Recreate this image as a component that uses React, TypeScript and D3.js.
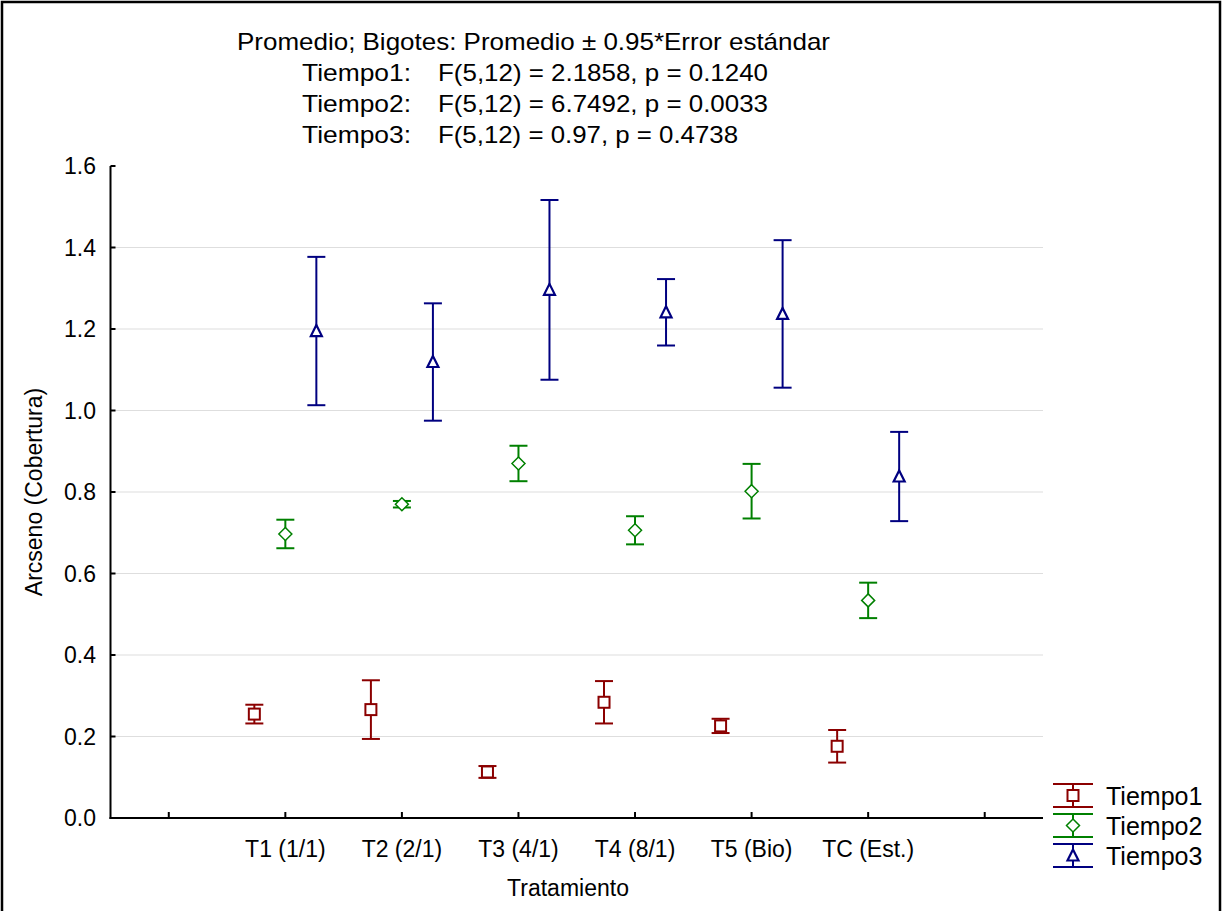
import React from "react";
import * as d3 from "d3";

// Treatments on the x axis (positions 1..6; 0 and 7 are empty slots)
const categories = ["T1 (1/1)", "T2 (2/1)", "T3 (4/1)", "T4 (8/1)", "T5 (Bio)", "TC (Est.)"];

// Means and whisker half-widths (0.95 * standard error)
const tiempo1Mean = [0.255, 0.266, 0.113, 0.284, 0.226, 0.176];
const tiempo1Err = [0.023, 0.072, 0.0145, 0.052, 0.0175, 0.04];
const tiempo2Mean = [0.697, 0.77, 0.87, 0.706, 0.802, 0.534];
const tiempo2Err = [0.035, 0.008, 0.0435, 0.0345, 0.067, 0.0435];
const tiempo3Mean = [1.195, 1.119, 1.296, 1.241, 1.237, 0.838];
const tiempo3Err = [0.182, 0.144, 0.2205, 0.0815, 0.181, 0.1095];

const yTicks = [0, 0.2, 0.4, 0.6, 0.8, 1.0, 1.2, 1.4, 1.6];
const xTickSlots = [0, 1, 2, 3, 4, 5, 6, 7];

const seriesNames = ["Tiempo1", "Tiempo2", "Tiempo3"];
const seriesColors = ["#8b0000", "#008000", "#000080"];
const seriesShapes = ["square", "diamond", "triangle"];

const headerLine = "Promedio; Bigotes: Promedio \u00b1 0.95*Error est\u00e1ndar";
const statLabels = ["Tiempo1:", "Tiempo2:", "Tiempo3:"];
const statValues = [
  "F(5,12) = 2.1858, p = 0.1240",
  "F(5,12) = 6.7492, p = 0.0033",
  "F(5,12) = 0.97, p = 0.4738",
];

const W = 1223;
const H = 911;
const plot = { left: 110.5, right: 1043, top: 166, bottom: 818 };
const FONT = "'Liberation Sans', Arial, Helvetica, sans-serif";
const NARROW = "'Liberation Sans Narrow', 'Arial Narrow', 'Liberation Sans', Arial, sans-serif";

const x = d3.scaleLinear().domain([-0.5, 7.5]).range([plot.left, plot.right]);
const y = d3.scaleLinear().domain([0, 1.6]).range([plot.bottom, plot.top]);

const groupOffset = 0.266; // slot units between the three series in a group

function Marker({ shape, cx, cy, color }: { shape: string; cx: number; cy: number; color: string }) {
  if (shape === "square") {
    return <rect x={cx - 5.5} y={cy - 5.5} width={11} height={11} fill="#fff" stroke={color} strokeWidth={2} />;
  }
  if (shape === "diamond") {
    const p = d3.path();
    p.moveTo(cx, cy - 6.5);
    p.lineTo(cx + 6.5, cy);
    p.lineTo(cx, cy + 6.5);
    p.lineTo(cx - 6.5, cy);
    p.closePath();
    return <path d={p.toString()} fill="#fff" stroke={color} strokeWidth={1.5} />;
  }
  const p = d3.path();
  p.moveTo(cx, cy - 6);
  p.lineTo(cx + 5.5, cy + 5);
  p.lineTo(cx - 5.5, cy + 5);
  p.closePath();
  return <path d={p.toString()} fill="#fff" stroke={color} strokeWidth={2.2} strokeLinejoin="miter" />;
}

function Whisker({ cx, top, bottom, color, cap }: { cx: number; top: number; bottom: number; color: string; cap: number }) {
  return (
    <g stroke={color} strokeWidth={2}>
      <line x1={cx} x2={cx} y1={top} y2={bottom} />
      <line x1={cx - cap} x2={cx + cap} y1={top} y2={top} />
      <line x1={cx - cap} x2={cx + cap} y1={bottom} y2={bottom} />
    </g>
  );
}

export default function App() {
  const means = [tiempo1Mean, tiempo2Mean, tiempo3Mean];
  const errs = [tiempo1Err, tiempo2Err, tiempo3Err];

  return (
    <svg
      width={W}
      height={H}
      viewBox={`0 0 ${W} ${H}`}
      style={{ position: "absolute", left: 0, top: 0, background: "#fff" }}
    >
      <rect x={0} y={0} width={W} height={H} fill="#fff" />
      <rect x={2} y={2} width={1218} height={930} fill="none" stroke="#000" strokeWidth={2.5} />

      {/* header and ANOVA results */}
      <g fontFamily={NARROW} fontSize={24} fill="#000">
        <text x={237} y={50} textLength={593} lengthAdjust="spacingAndGlyphs">
          {headerLine}
        </text>
        {statLabels.map((lab, i) => (
          <g key={lab}>
            <text x={302} y={81 + i * 31} textLength={109} lengthAdjust="spacingAndGlyphs">
              {lab}
            </text>
            <text x={438} y={81 + i * 31} textLength={i === 2 ? 300 : 330} lengthAdjust="spacingAndGlyphs">
              {statValues[i]}
            </text>
          </g>
        ))}
      </g>

      {/* horizontal grid */}
      <g stroke="#bdbdbd" strokeWidth={1.2} strokeDasharray="1 1">
        {yTicks
          .filter((t) => t > 0 && t < 1.6)
          .map((t) => (
            <line key={t} x1={plot.left} x2={plot.right} y1={y(t)} y2={y(t)} />
          ))}
      </g>

      {/* axes */}
      <g stroke="#000" strokeWidth={2}>
        <line x1={plot.left} x2={plot.left} y1={plot.top} y2={plot.bottom + 1} />
        <line x1={plot.left - 1} x2={plot.right} y1={plot.bottom} y2={plot.bottom} />
        {yTicks.map((t) => (
          <line key={t} x1={plot.left} x2={plot.left + 5} y1={y(t)} y2={y(t)} />
        ))}
        {xTickSlots.map((s) => (
          <line key={s} x1={x(s)} x2={x(s)} y1={plot.bottom} y2={plot.bottom - 6} />
        ))}
      </g>

      <g fontFamily={FONT} fontSize={23} fill="#000">
        {yTicks.map((t) => (
          <text key={t} x={96} y={y(t)} dy="0.36em" textAnchor="end">
            {d3.format(".1f")(t)}
          </text>
        ))}
        {categories.map((c, i) => (
          <text key={c} x={x(i + 1)} y={857} textAnchor="middle">
            {c}
          </text>
        ))}
        <text x={568} y={896} textAnchor="middle">
          Tratamiento
        </text>
        <text transform={`translate(42,${(plot.top + plot.bottom) / 2}) rotate(-90)`} textAnchor="middle">
          Arcseno (Cobertura)
        </text>
      </g>

      {/* whiskers and means */}
      {means.map((m, si) => (
        <g key={seriesNames[si]}>
          {m.map((v, ci) => {
            const cx = x(ci + 1 + (si - 1) * groupOffset);
            const e = errs[si][ci];
            return (
              <g key={ci}>
                <Whisker cx={cx} top={y(v + e)} bottom={y(v - e)} color={seriesColors[si]} cap={9} />
                <Marker shape={seriesShapes[si]} cx={cx} cy={y(v)} color={seriesColors[si]} />
              </g>
            );
          })}
        </g>
      ))}

      {/* legend */}
      <g>
        {seriesNames.map((name, i) => {
          const cy = 795.5 + i * 30;
          return (
            <g key={name}>
              <Whisker cx={1073} top={cy - 11.5} bottom={cy + 11.5} color={seriesColors[i]} cap={20} />
              <Marker shape={seriesShapes[i]} cx={1073} cy={cy} color={seriesColors[i]} />
              <text x={1106} y={cy} dy="0.36em" fontFamily={FONT} fontSize={25} fill="#000">
                {name}
              </text>
            </g>
          );
        })}
      </g>
    </svg>
  );
}
